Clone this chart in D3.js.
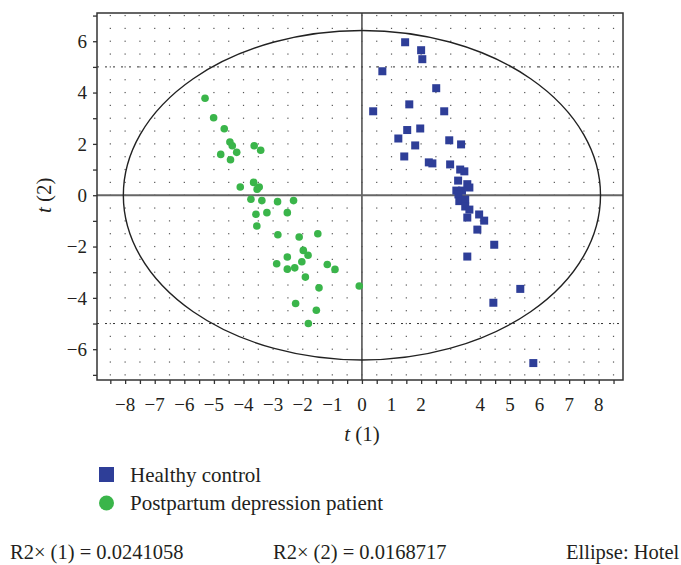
<!DOCTYPE html>
<html>
<head>
<meta charset="utf-8">
<script src="https://cdn.jsdelivr.net/npm/d3@7"></script>
<style>
	body { margin: 0; background: #fff; }
	svg { display: block; font-family: "Liberation Serif", "DejaVu Serif", serif; }
</style>
</head>
<body>
<svg id="chart" width="681" height="565"></svg>
<script>
// score values, t(1) and t(2)
const healthyX = [1.46, 2.00, 2.04, 0.69, 2.51, 1.60, 0.38, 2.78, 1.53, 1.97, 1.23, 1.80, 2.95, 3.35, 1.43, 2.26, 2.38, 2.98, 3.32, 3.46, 3.25, 3.56, 3.63, 3.19, 3.38, 3.26, 3.29, 3.49, 3.49, 3.63, 3.56, 3.96, 4.13, 3.90, 4.47, 3.56, 5.35, 4.44, 5.79];
const healthyY = [5.96, 5.65, 5.30, 4.83, 4.17, 3.54, 3.27, 3.27, 2.54, 2.60, 2.21, 1.94, 2.14, 1.98, 1.51, 1.28, 1.24, 1.20, 1.00, 0.93, 0.57, 0.43, 0.30, 0.18, 0.18, 0.03, -0.23, -0.17, -0.44, -0.56, -0.87, -0.75, -0.99, -1.34, -1.93, -2.39, -3.65, -4.19, -6.54];

const patientX = [-5.30, -5.01, -4.65, -4.46, -4.38, -3.64, -3.42, -4.23, -4.77, -4.44, -4.11, -3.66, -3.47, -3.54, -3.75, -3.38, -2.85, -2.31, -3.58, -3.21, -2.52, -3.55, -2.84, -2.12, -1.49, -1.98, -1.82, -2.52, -2.88, -2.03, -2.27, -2.52, -1.17, -0.91, -1.91, -1.45, -0.09, -2.24, -1.54, -1.81];
const patientY = [3.78, 3.02, 2.59, 2.07, 1.93, 1.93, 1.75, 1.67, 1.59, 1.38, 0.32, 0.50, 0.32, 0.23, -0.16, -0.21, -0.25, -0.21, -0.74, -0.68, -0.68, -1.20, -1.54, -1.63, -1.50, -2.15, -2.34, -2.41, -2.67, -2.59, -2.83, -2.88, -2.70, -2.89, -3.19, -3.61, -3.54, -4.22, -4.48, -5.00];

const xTickLabels = [-8, -7, -6, -5, -4, -3, -2, -1, 0, 1, 2, 4, 5, 6, 7, 8];
const yTickLabels = [-6, -4, -2, 0, 2, 4, 6];
const ellipseRadii = [8.06, 6.42];
const dashedLevels = [5, -5];
const legendLabels = ['Healthy control', 'Postpartum depression patient'];
const footerTexts = ['R2\u00d7 (1) = 0.0241058', 'R2\u00d7 (2) = 0.0168717', 'Ellipse: Hotel'];

const blue = '#2e3e98';
const green = '#3ab54a';

const svg = d3.select('#chart');
const plotLeft = 97, plotRight = 623, plotTop = 13, plotBottom = 380;

const x = d3.scaleLinear().domain([-8.95, 8.82]).range([plotLeft, plotRight]);
const y = d3.scaleLinear().domain([-7.2, 7.1]).range([plotBottom, plotTop]);

// dot grid every half unit
const gridX = d3.range(-17, 18).map(i => i / 2);
const gridY = d3.range(-14, 15).map(i => i / 2);
const dots = [];
gridX.forEach(gx => gridY.forEach(gy => dots.push([gx, gy])));
svg.append('g')
	.selectAll('rect')
	.data(dots)
	.join('rect')
	.attr('x', d => x(d[0]) - 0.6)
	.attr('y', d => y(d[1]) - 0.6)
	.attr('width', 1.2)
	.attr('height', 1.2)
	.attr('fill', '#555');

// dashed lines
svg.append('g')
	.selectAll('line')
	.data(dashedLevels)
	.join('line')
	.attr('x1', plotLeft)
	.attr('x2', plotRight)
	.attr('y1', d => y(d))
	.attr('y2', d => y(d))
	.attr('stroke', '#333')
	.attr('stroke-width', 1)
	.attr('stroke-dasharray', '2,6');

// zero lines
svg.append('line')
	.attr('x1', x(0)).attr('x2', x(0))
	.attr('y1', plotTop).attr('y2', plotBottom)
	.attr('stroke', '#555').attr('stroke-width', 1.6);
svg.append('line')
	.attr('x1', plotLeft).attr('x2', plotRight)
	.attr('y1', y(0)).attr('y2', y(0))
	.attr('stroke', '#666').attr('stroke-width', 2);

// Hotelling ellipse
svg.append('ellipse')
	.attr('cx', x(0))
	.attr('cy', y(0))
	.attr('rx', x(ellipseRadii[0]) - x(0))
	.attr('ry', y(0) - y(ellipseRadii[1]))
	.attr('fill', 'none')
	.attr('stroke', '#222')
	.attr('stroke-width', 1.4);

// frame
svg.append('rect')
	.attr('x', plotLeft).attr('y', plotTop)
	.attr('width', plotRight - plotLeft).attr('height', plotBottom - plotTop)
	.attr('fill', 'none')
	.attr('stroke', '#333')
	.attr('stroke-width', 1.5);

// axes
const xAxis = svg.append('g')
	.attr('transform', `translate(0,${plotBottom})`)
	.call(d3.axisBottom(x).tickValues(gridX).tickSize(4).tickFormat(''));
xAxis.select('.domain').remove();
xAxis.selectAll('line').attr('stroke', '#333').attr('stroke-width', 1.3);

const yAxis = svg.append('g')
	.attr('transform', `translate(${plotLeft},0)`)
	.call(d3.axisLeft(y).tickValues(d3.range(-7, 8)).tickSize(4).tickFormat(''));
yAxis.select('.domain').remove();
yAxis.selectAll('line').attr('stroke', '#333').attr('stroke-width', 1.3);

const fmt = v => v < 0 ? '\u2212' + Math.abs(v) : String(v);

svg.append('g')
	.selectAll('text')
	.data(xTickLabels)
	.join('text')
	.attr('x', d => x(d))
	.attr('y', 411)
	.attr('text-anchor', 'middle')
	.attr('font-size', 19)
	.attr('fill', '#231f20')
	.text(fmt);

svg.append('g')
	.selectAll('text')
	.data(yTickLabels)
	.join('text')
	.attr('x', 87)
	.attr('y', d => y(d))
	.attr('dy', '0.35em')
	.attr('text-anchor', 'end')
	.attr('font-size', 19)
	.attr('fill', '#231f20')
	.text(fmt);

// axis titles
const xTitle = svg.append('text')
	.attr('x', x(0))
	.attr('y', 441)
	.attr('text-anchor', 'middle')
	.attr('font-size', 21)
	.attr('fill', '#231f20');
xTitle.append('tspan').attr('font-style', 'italic').text('t');
xTitle.append('tspan').text(' (1)');

const yTitle = svg.append('text')
	.attr('transform', `translate(51,${y(0)}) rotate(-90)`)
	.attr('text-anchor', 'middle')
	.attr('font-size', 21)
	.attr('fill', '#231f20');
yTitle.append('tspan').attr('font-style', 'italic').text('t');
yTitle.append('tspan').text(' (2)');

// points
svg.append('g')
	.selectAll('circle')
	.data(d3.range(patientX.length))
	.join('circle')
	.attr('cx', i => x(patientX[i]))
	.attr('cy', i => y(patientY[i]))
	.attr('r', 3.8)
	.attr('fill', green);

svg.append('g')
	.selectAll('rect')
	.data(d3.range(healthyX.length))
	.join('rect')
	.attr('x', i => x(healthyX[i]) - 4)
	.attr('y', i => y(healthyY[i]) - 4)
	.attr('width', 8)
	.attr('height', 8)
	.attr('fill', blue);

// legend
const legend = svg.append('g');
legend.append('rect')
	.attr('x', 99).attr('y', 467)
	.attr('width', 15).attr('height', 15)
	.attr('fill', blue);
legend.append('circle')
	.attr('cx', 106.5).attr('cy', 503)
	.attr('r', 7.5)
	.attr('fill', green);
legend.selectAll('text')
	.data(legendLabels)
	.join('text')
	.attr('x', 130)
	.attr('y', (d, i) => 482 + i * 28)
	.attr('font-size', 21)
	.attr('fill', '#231f20')
	.text(d => d);

// footer
svg.append('g')
	.selectAll('text')
	.data(footerTexts)
	.join('text')
	.attr('x', (d, i) => [10, 273, 566][i])
	.attr('y', 559)
	.attr('font-size', 20.5)
	.attr('fill', '#231f20')
	.text(d => d);
</script>
</body>
</html>
